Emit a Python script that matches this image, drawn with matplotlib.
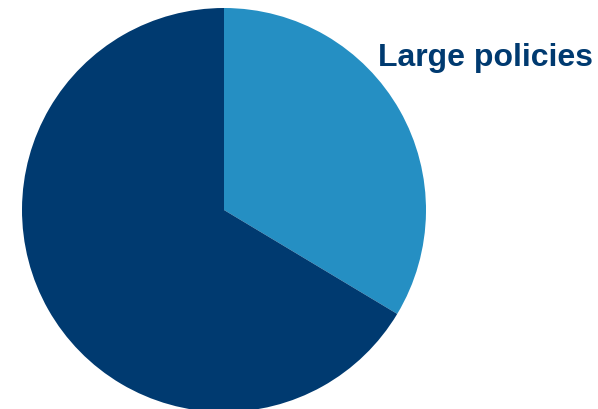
import matplotlib.pyplot as plt

labels = ['Large policies', 'Other']
shares = [33.6, 66.4]
colors = ['#258FC3', '#003A70']

fig = plt.figure(figsize=(5.98, 4.09), dpi=100)
ax = fig.add_axes([0, 0, 1, 1])

ax.pie(shares, colors=colors, startangle=90, counterclock=False,
       center=(224, 199), radius=202, frame=True)
ax.set_xlim(0, 598)
ax.set_ylim(0, 409)
ax.set_aspect('equal')
ax.axis('off')

ax.text(378, 351, labels[0], fontsize=23, fontweight='bold', color='#003A70',
        family='Liberation Sans', ha='left', va='center')

fig.savefig('out.png', dpi=100)
